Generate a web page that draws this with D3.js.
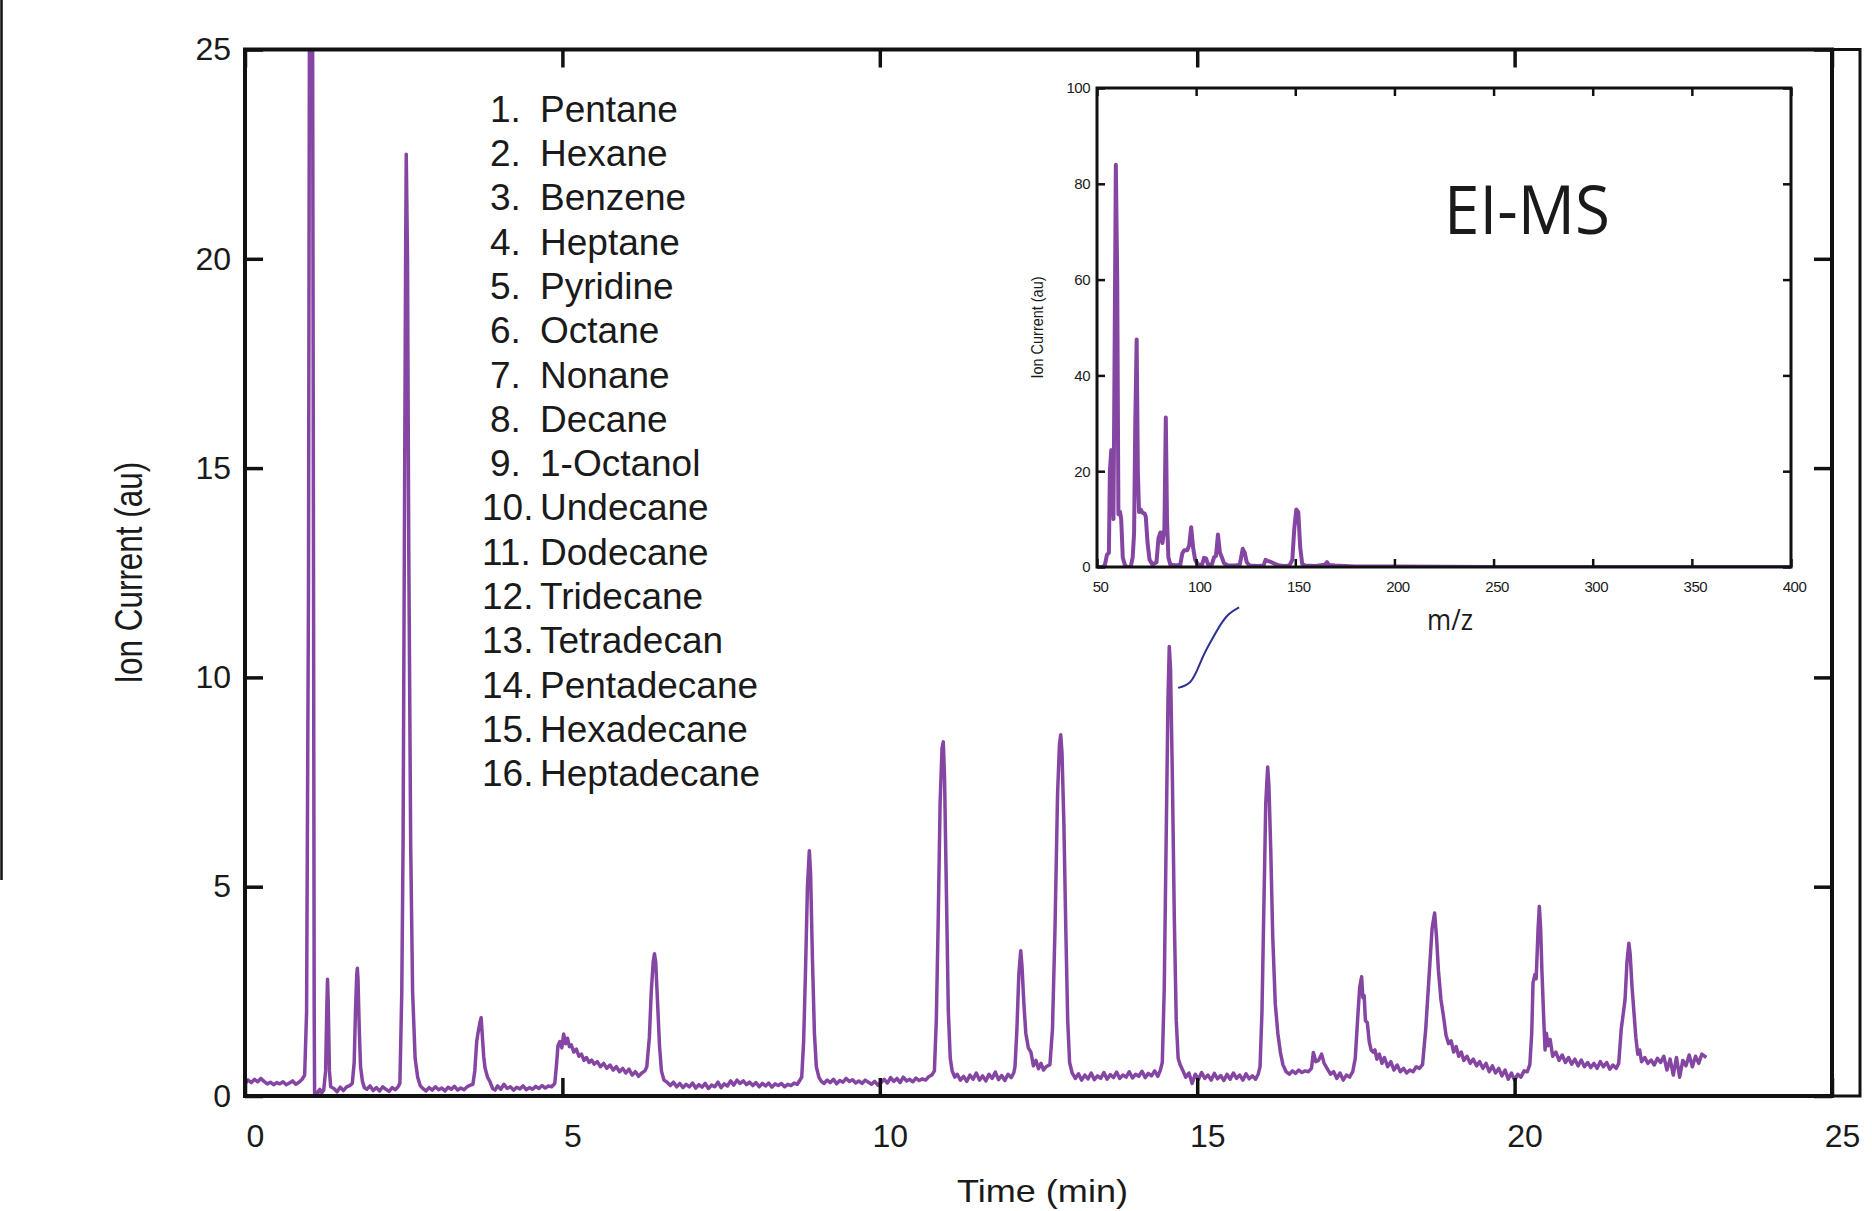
<!DOCTYPE html>
<html lang="en">
<head>
<meta charset="UTF-8">
<title>GC-MS chromatogram</title>
<script src="https://d3js.org/d3.v7.min.js"></script>
<style>
    body { margin: 0; background: #fff; }
    svg { display: block; font-family: "Liberation Sans", Arial, sans-serif; fill: #1a1a1a; }
    .trace { fill: none; stroke: #8446a2; stroke-width: 3.5; stroke-linejoin: round; }
    .frame { fill: none; stroke: #111; }
    .axis path { display: none; }
    .axis line { stroke: #111; }
    .axis text { fill: #1a1a1a; }
</style>
</head>
<body>
<div id="chart"></div>
<script>
// peak list shown in the legend
var compounds = ["Pentane", "Hexane", "Benzene", "Heptane", "Pyridine", "Octane", "Nonane", "Decane",
    "1-Octanol", "Undecane", "Dodecane", "Tridecane", "Tetradecan", "Pentadecane", "Hexadecane", "Heptadecane"];

var timeTicks = [0, 5, 10, 15, 20, 25];
var currentTicks = [0, 5, 10, 15, 20, 25];
var mzTicks = [50, 100, 150, 200, 250, 300, 350, 400];
var relTicks = [0, 20, 40, 60, 80, 100];

// total ion current, [time (min), ion current (au)]
var chromatogram = [
    [0.00, 0.30], [0.05, 0.38], [0.10, 0.32], [0.15, 0.40], [0.20, 0.34], [0.25, 0.42], [0.30, 0.35],
    [0.35, 0.29], [0.40, 0.33], [0.45, 0.27], [0.50, 0.32], [0.55, 0.29], [0.60, 0.34], [0.65, 0.27],
    [0.70, 0.31], [0.75, 0.36], [0.80, 0.28], [0.85, 0.33], [0.90, 0.40], [0.94, 0.50],
    [0.97, 2.0], [1.00, 12.0], [1.02, 30.0], [1.06, 30.0], [1.08, 12.0], [1.09, 2.0], [1.10, -1.0],
    [1.12, -1.5], [1.13, -0.4], [1.15, 0.10], [1.18, 0.16], [1.21, 0.08], [1.24, 0.14],
    [1.27, 0.6], [1.29, 2.2], [1.30, 2.79], [1.31, 2.3], [1.33, 0.6], [1.35, 0.22],
    [1.40, 0.18], [1.45, 0.10], [1.50, 0.21], [1.55, 0.13], [1.60, 0.22], [1.65, 0.25],
    [1.69, 0.30], [1.72, 0.8], [1.74, 2.0], [1.76, 2.9], [1.77, 3.05], [1.78, 2.8], [1.80, 1.6],
    [1.82, 0.7], [1.85, 0.35], [1.88, 0.20],
    [1.92, 0.16], [1.97, 0.24], [2.02, 0.13], [2.07, 0.20], [2.12, 0.12], [2.17, 0.22], [2.22, 0.16],
    [2.27, 0.11], [2.32, 0.20], [2.37, 0.15], [2.41, 0.22],
    [2.44, 0.30], [2.47, 2.5], [2.49, 6.0], [2.51, 13.0], [2.53, 20.0], [2.54, 22.5], [2.56, 20.0],
    [2.58, 13.0], [2.61, 6.0], [2.64, 2.5], [2.68, 0.9], [2.72, 0.45], [2.76, 0.25],
    [2.80, 0.18], [2.85, 0.12], [2.90, 0.20], [2.95, 0.14], [3.00, 0.22], [3.05, 0.15], [3.10, 0.19],
    [3.15, 0.12], [3.20, 0.21], [3.25, 0.16], [3.30, 0.23], [3.35, 0.14], [3.40, 0.19], [3.45, 0.15],
    [3.50, 0.22], [3.55, 0.26],
    [3.59, 0.28], [3.62, 0.6], [3.65, 1.3], [3.67, 1.5], [3.70, 1.75], [3.72, 1.87], [3.74, 1.4],
    [3.76, 0.95], [3.78, 0.68], [3.82, 0.45], [3.86, 0.34], [3.90, 0.18], [3.94, 0.14],
    [3.98, 0.24], [4.03, 0.16], [4.08, 0.28], [4.13, 0.18], [4.18, 0.22], [4.23, 0.14], [4.28, 0.21],
    [4.33, 0.17], [4.38, 0.24], [4.43, 0.15], [4.48, 0.20], [4.53, 0.16], [4.58, 0.23], [4.63, 0.18],
    [4.68, 0.25], [4.73, 0.19], [4.78, 0.24], [4.83, 0.22], [4.88, 0.30],
    [4.91, 0.8], [4.93, 1.2], [4.96, 1.3], [4.99, 1.15], [5.02, 1.48], [5.05, 1.25], [5.08, 1.38],
    [5.11, 1.18], [5.14, 1.22], [5.18, 1.05], [5.22, 1.12], [5.26, 0.95], [5.30, 1.00], [5.34, 0.85],
    [5.38, 0.92], [5.42, 0.80], [5.46, 0.86], [5.50, 0.76], [5.55, 0.82], [5.60, 0.70], [5.65, 0.78],
    [5.70, 0.66], [5.75, 0.74], [5.80, 0.62], [5.85, 0.70], [5.90, 0.58], [5.95, 0.66], [6.00, 0.55],
    [6.05, 0.64], [6.10, 0.50], [6.15, 0.58], [6.20, 0.47], [6.25, 0.55], [6.30, 0.60],
    [6.33, 0.7], [6.37, 1.4], [6.40, 2.5], [6.43, 3.2], [6.45, 3.40], [6.47, 3.2], [6.50, 2.2],
    [6.53, 1.2], [6.56, 0.6], [6.60, 0.38], [6.64, 0.34],
    [6.70, 0.25], [6.75, 0.33], [6.80, 0.22], [6.85, 0.30], [6.90, 0.20], [6.95, 0.28], [7.00, 0.22],
    [7.05, 0.31], [7.10, 0.19], [7.15, 0.27], [7.20, 0.21], [7.25, 0.30], [7.30, 0.18], [7.35, 0.26],
    [7.40, 0.22], [7.45, 0.33], [7.50, 0.20], [7.55, 0.29], [7.60, 0.24], [7.65, 0.36], [7.70, 0.26],
    [7.75, 0.38], [7.80, 0.30], [7.85, 0.36], [7.90, 0.27], [7.95, 0.33], [8.00, 0.25], [8.05, 0.32],
    [8.10, 0.22], [8.15, 0.30], [8.20, 0.24], [8.25, 0.31], [8.30, 0.21], [8.35, 0.29], [8.40, 0.25],
    [8.45, 0.30], [8.50, 0.22], [8.55, 0.28], [8.60, 0.25], [8.65, 0.31], [8.70, 0.28], [8.75, 0.40],
    [8.77, 0.45], [8.80, 1.3], [8.83, 3.0], [8.86, 5.0], [8.89, 5.86], [8.91, 5.3], [8.94, 3.2],
    [8.97, 1.5], [9.00, 0.7], [9.04, 0.45], [9.08, 0.35],
    [9.12, 0.30], [9.17, 0.38], [9.22, 0.32], [9.27, 0.40], [9.32, 0.29], [9.37, 0.37], [9.42, 0.33],
    [9.47, 0.42], [9.52, 0.35], [9.57, 0.39], [9.62, 0.31], [9.67, 0.36], [9.72, 0.30], [9.77, 0.38],
    [9.82, 0.33], [9.87, 0.28], [9.92, 0.35], [9.97, 0.26], [10.02, 0.32], [10.07, 0.40], [10.12, 0.31],
    [10.17, 0.44], [10.22, 0.35], [10.27, 0.42], [10.32, 0.32], [10.37, 0.45], [10.42, 0.36], [10.47, 0.40],
    [10.52, 0.34], [10.57, 0.43], [10.62, 0.37], [10.67, 0.41], [10.72, 0.38], [10.77, 0.46], [10.82, 0.50],
    [10.86, 0.6], [10.89, 1.8], [10.92, 4.2], [10.95, 7.0], [10.98, 8.3], [11.00, 8.46], [11.02, 7.6],
    [11.05, 4.8], [11.08, 2.0], [11.11, 0.9], [11.14, 0.6], [11.18, 0.45],
    [11.22, 0.52], [11.27, 0.38], [11.32, 0.47], [11.37, 0.35], [11.42, 0.50], [11.47, 0.40], [11.52, 0.55],
    [11.57, 0.38], [11.62, 0.48], [11.67, 0.36], [11.72, 0.52], [11.77, 0.42], [11.82, 0.57], [11.87, 0.39],
    [11.92, 0.49], [11.97, 0.37], [12.02, 0.52], [12.07, 0.44], [12.11, 0.55],
    [12.13, 0.7], [12.16, 1.6], [12.19, 2.9], [12.22, 3.47], [12.24, 3.1], [12.27, 2.2], [12.30, 1.5],
    [12.34, 1.15], [12.38, 1.05], [12.42, 0.72], [12.46, 0.85], [12.50, 0.65], [12.54, 0.78], [12.58, 0.62],
    [12.62, 0.70],
    [12.68, 0.75], [12.72, 1.6], [12.76, 4.0], [12.80, 7.2], [12.83, 8.4], [12.85, 8.63], [12.87, 8.2],
    [12.90, 6.5], [12.93, 4.0], [12.96, 1.8], [12.99, 0.8], [13.03, 0.55],
    [13.08, 0.42], [13.13, 0.53], [13.18, 0.38], [13.23, 0.50], [13.28, 0.41], [13.33, 0.55], [13.38, 0.39],
    [13.43, 0.48], [13.48, 0.42], [13.53, 0.56], [13.58, 0.40], [13.63, 0.51], [13.68, 0.44], [13.73, 0.57],
    [13.78, 0.42], [13.83, 0.50], [13.88, 0.45], [13.93, 0.58], [13.98, 0.43], [14.03, 0.52], [14.08, 0.47],
    [14.13, 0.59], [14.18, 0.44], [14.23, 0.54], [14.28, 0.48], [14.33, 0.60], [14.38, 0.47], [14.42, 0.62],
    [14.45, 0.8], [14.48, 2.5], [14.51, 6.0], [14.54, 9.5], [14.56, 10.74], [14.58, 10.2], [14.61, 7.5],
    [14.64, 4.2], [14.67, 1.8], [14.70, 0.9], [14.73, 0.75],
    [14.77, 0.62], [14.82, 0.45], [14.87, 0.55], [14.92, 0.30], [14.97, 0.52], [15.02, 0.40], [15.07, 0.56],
    [15.12, 0.42], [15.17, 0.50], [15.22, 0.38], [15.27, 0.54], [15.32, 0.41], [15.37, 0.49], [15.42, 0.37],
    [15.47, 0.52], [15.52, 0.40], [15.57, 0.55], [15.62, 0.42], [15.67, 0.50], [15.72, 0.38], [15.77, 0.53],
    [15.82, 0.41], [15.87, 0.48], [15.92, 0.40], [15.96, 0.52],
    [15.99, 0.7], [16.02, 2.0], [16.05, 4.5], [16.08, 7.0], [16.11, 7.86], [16.13, 7.4], [16.16, 5.8],
    [16.19, 3.8], [16.23, 2.2], [16.27, 1.5], [16.31, 1.05], [16.35, 0.75], [16.40, 0.58],
    [16.45, 0.52], [16.50, 0.60], [16.55, 0.54], [16.60, 0.62], [16.65, 0.56], [16.70, 0.60], [16.75, 0.58],
    [16.80, 0.66], [16.83, 1.04], [16.87, 0.82], [16.91, 0.85], [16.96, 1.00], [17.00, 0.78], [17.05, 0.65],
    [17.10, 0.52], [17.15, 0.58], [17.20, 0.42], [17.25, 0.55], [17.30, 0.38], [17.35, 0.50], [17.40, 0.45],
    [17.45, 0.58],
    [17.49, 0.9], [17.53, 1.9], [17.56, 2.6], [17.59, 2.85], [17.61, 2.35], [17.63, 2.4], [17.65, 1.8],
    [17.68, 1.75], [17.71, 1.3], [17.74, 1.1], [17.77, 1.05], [17.80, 1.10], [17.83, 0.88], [17.87, 1.00],
    [17.91, 0.78], [17.95, 0.92], [18.00, 0.70], [18.05, 0.82], [18.10, 0.62], [18.15, 0.74], [18.20, 0.58],
    [18.25, 0.66], [18.30, 0.55], [18.35, 0.62], [18.40, 0.58], [18.45, 0.70], [18.50, 0.66],
    [18.55, 0.75], [18.60, 1.6], [18.65, 2.8], [18.70, 4.0], [18.74, 4.37], [18.77, 3.8], [18.80, 3.0],
    [18.84, 2.3], [18.88, 1.9], [18.92, 1.45], [18.96, 1.25], [19.00, 1.32], [19.04, 1.05], [19.08, 1.18],
    [19.12, 0.95], [19.16, 1.05], [19.20, 0.85], [19.25, 0.95], [19.30, 0.78], [19.35, 0.88], [19.40, 0.72],
    [19.45, 0.82], [19.50, 0.66], [19.55, 0.78], [19.60, 0.58], [19.65, 0.72], [19.70, 0.55], [19.75, 0.66],
    [19.80, 0.48], [19.85, 0.62], [19.90, 0.40], [19.95, 0.55], [20.00, 0.38], [20.05, 0.52], [20.10, 0.45],
    [20.15, 0.60], [20.20, 0.58],
    [20.24, 0.75], [20.27, 1.5], [20.29, 2.7], [20.32, 2.9], [20.34, 2.8], [20.37, 4.0], [20.39, 4.53],
    [20.41, 4.0], [20.43, 3.0], [20.46, 1.8], [20.48, 1.1], [20.50, 1.5], [20.53, 1.2], [20.56, 1.35],
    [20.60, 0.95], [20.65, 1.05], [20.70, 0.85], [20.75, 0.98], [20.80, 0.80], [20.85, 0.92], [20.90, 0.76],
    [20.95, 0.88], [21.00, 0.72], [21.05, 0.86], [21.10, 0.70], [21.15, 0.80], [21.20, 0.68], [21.25, 0.78],
    [21.30, 0.66], [21.35, 0.82], [21.40, 0.70], [21.45, 0.80], [21.50, 0.64], [21.55, 0.74], [21.60, 0.66],
    [21.64, 0.78], [21.68, 1.6], [21.71, 1.95], [21.74, 2.3], [21.77, 3.2], [21.80, 3.65], [21.82, 3.4],
    [21.85, 2.6], [21.88, 2.0], [21.91, 1.4], [21.94, 1.0], [21.97, 1.1], [22.00, 0.82], [22.05, 0.92],
    [22.10, 0.78], [22.15, 0.86], [22.20, 0.74], [22.25, 0.90], [22.30, 0.80], [22.35, 0.95], [22.40, 0.62],
    [22.45, 0.88], [22.50, 0.50], [22.55, 0.92], [22.60, 0.45], [22.65, 0.85], [22.70, 0.72], [22.75, 0.98],
    [22.80, 0.70], [22.85, 0.95], [22.90, 0.78], [22.95, 1.00], [23.02, 0.92]
];

// EI mass spectrum of the 14.6 min peak, [m/z, relative ion current]
var spectrum = [
    [50, 0], [53, 0], [54, 0.5], [55, 2.5], [56, 3], [56.5, 20], [57.2, 24.4], [57.8, 22], [58.3, 10],
    [58.8, 40], [59.5, 84], [60.2, 60], [60.8, 11], [61.6, 11.5], [62.2, 10], [63, 2], [64, 0.5],
    [65, 0], [67, 0], [68, 2], [68.7, 7], [69.3, 30], [70, 47.5], [70.6, 20], [71.2, 11.5], [72, 12],
    [73, 11.3], [74, 11.2], [74.6, 10.5], [75.5, 5], [76.5, 1.5], [78, 0.5], [80, 1], [81, 6], [82, 7.2],
    [83, 5], [84, 8], [84.7, 31.2], [85.3, 10], [86, 2], [87, 0.5], [90, 0.3], [92, 0.5], [93, 2.8],
    [94, 3.5], [95.5, 3.5], [96.5, 4.5], [97.5, 8.3], [98.5, 4], [99.5, 1.5], [101, 0.4], [103, 0.5],
    [104, 1.9], [105, 1.8], [106, 0.5], [108, 0.6], [109, 2], [110, 2.3], [111, 6.8], [112, 3], [113, 2],
    [114, 0.8], [116, 0.3], [120, 0.3], [122, 0.5], [123.5, 3.8], [124.5, 3], [125.5, 1], [127, 0.3],
    [131, 0.2], [134, 0.3], [135, 1.5], [136, 1.3], [138, 1.0], [140, 0.6], [142, 0.3], [145, 0.2],
    [147, 0.3], [148.5, 1.5], [149.5, 8], [150.5, 12], [151.5, 11.5], [152.5, 4], [153.5, 0.6], [155, 0.3],
    [160, 0.2], [165, 0.5], [166, 1], [167, 0.4], [170, 0.3], [180, 0.1], [200, 0.1], [250, 0], [400, 0]
];

// call-out from the tetradecane peak to the inset, in chromatogram units
var connector = [[14.70, 9.75], [14.89, 9.89], [15.14, 10.65], [15.46, 11.45], [15.66, 11.67]];

var W = 1872, H = 1211;
var svg = d3.select("#chart").append("svg")
    .attr("width", W)
    .attr("height", H);

// ---- main chromatogram ----
var x = d3.scaleLinear().domain([0, 25]).range([245, 1832]);
var y = d3.scaleLinear().domain([0, 25]).range([1096, 49.5]);

svg.append("clipPath").attr("id", "plotClip")
    .append("rect")
    .attr("x", x(0)).attr("y", y(25))
    .attr("width", x(25) - x(0)).attr("height", y(0) - y(25));

var traceLine = d3.line()
    .x(function (d) { return x(d[0]); })
    .y(function (d) { return y(d[1]); });

svg.append("path")
    .attr("class", "trace")
    .attr("clip-path", "url(#plotClip)")
    .attr("d", traceLine(chromatogram));

// stray border line at the left edge of the scan
svg.append("line")
    .attr("x1", 1.5).attr("x2", 1.5).attr("y1", 0).attr("y2", 880)
    .attr("stroke", "#111").attr("stroke-width", 2.5);

// axes, ticks pointing inward
var bottomAxis = svg.append("g").attr("class", "axis")
    .attr("transform", "translate(0," + y(0) + ")")
    .call(d3.axisBottom(x).tickValues(timeTicks).tickSize(-18).tickPadding(28));
bottomAxis.selectAll("line").attr("stroke-width", 3.5);
bottomAxis.selectAll("text").attr("dx", 10).style("font-size", "32px");

var leftAxis = svg.append("g").attr("class", "axis")
    .attr("transform", "translate(" + x(0) + ",0)")
    .call(d3.axisLeft(y).tickValues(currentTicks).tickSize(-18).tickPadding(14));
leftAxis.selectAll("line").attr("stroke-width", 3.5);
leftAxis.selectAll("text").style("font-size", "32px");

var topAxis = svg.append("g").attr("class", "axis")
    .attr("transform", "translate(0," + y(25) + ")")
    .call(d3.axisTop(x).tickValues(timeTicks).tickSize(-18).tickFormat(""));
topAxis.selectAll("line").attr("stroke-width", 3.5);

var rightAxis = svg.append("g").attr("class", "axis")
    .attr("transform", "translate(" + x(25) + ",0)")
    .call(d3.axisRight(y).tickValues(currentTicks).tickSize(-18).tickFormat(""));
rightAxis.selectAll("line").attr("stroke-width", 3.5);

svg.append("rect").attr("class", "frame")
    .attr("x", x(0)).attr("y", y(25))
    .attr("width", x(25) - x(0)).attr("height", y(0) - y(25))
    .attr("stroke-width", 4);

// second border on the right
svg.append("path").attr("class", "frame")
    .attr("d", "M" + x(25) + "," + y(25) + "H1860V" + y(0) + "H" + x(25))
    .attr("stroke-width", 3);

svg.append("text")
    .attr("transform", "translate(" + 142 + "," + (y(0) + y(25)) / 2 + ") rotate(-90)")
    .attr("text-anchor", "middle")
    .attr("textLength", 222).attr("lengthAdjust", "spacingAndGlyphs")
    .style("font-size", "38px")
    .text("Ion Current (au)");

svg.append("text")
    .attr("x", (x(0) + x(25)) / 2 + 4).attr("y", 1202)
    .attr("text-anchor", "middle")
    .attr("textLength", 171).attr("lengthAdjust", "spacingAndGlyphs")
    .style("font-size", "32px")
    .text("Time (min)");

// legend
var legend = svg.append("g");
compounds.forEach(function (name, i) {
    var by = 121.7 + i * 44.3;
    legend.append("text")
        .attr("x", i < 9 ? 490 : 482).attr("y", by)
        .style("font-size", "37px")
        .text((i + 1) + ".");
    legend.append("text")
        .attr("x", 540).attr("y", by)
        .style("font-size", "37px")
        .text(name);
});

// call-out line
svg.append("path")
    .attr("d", d3.line()
        .x(function (d) { return x(d[0]); })
        .y(function (d) { return y(d[1]); })
        .curve(d3.curveCatmullRom)(connector))
    .attr("fill", "none")
    .attr("stroke", "#2e3192")
    .attr("stroke-width", 2);

// ---- inset mass spectrum ----
var mx = d3.scaleLinear().domain([50, 400]).range([1097, 1791]);
var my = d3.scaleLinear().domain([0, 100]).range([567, 88]);

svg.append("clipPath").attr("id", "insetClip")
    .append("rect")
    .attr("x", mx(50)).attr("y", my(100))
    .attr("width", mx(400) - mx(50)).attr("height", my(0) - my(100));

svg.append("path")
    .attr("class", "trace")
    .attr("clip-path", "url(#insetClip)")
    .style("stroke-width", 4)
    .attr("d", d3.line()
        .x(function (d) { return mx(d[0]); })
        .y(function (d) { return my(d[1]); })(spectrum));

var inBottom = svg.append("g").attr("class", "axis")
    .attr("transform", "translate(0," + my(0) + ")")
    .call(d3.axisBottom(mx).tickValues(mzTicks).tickSize(-8).tickPadding(14));
inBottom.selectAll("line").attr("stroke-width", 2.5);
inBottom.selectAll("text").attr("dx", 3).style("font-size", "15px").style("letter-spacing", "-0.5px");

var inLeft = svg.append("g").attr("class", "axis")
    .attr("transform", "translate(" + mx(50) + ",0)")
    .call(d3.axisLeft(my).tickValues(relTicks).tickSize(-8).tickPadding(7));
inLeft.selectAll("line").attr("stroke-width", 2.5);
inLeft.selectAll("text").style("font-size", "15px").style("letter-spacing", "-0.5px");

var inTop = svg.append("g").attr("class", "axis")
    .attr("transform", "translate(0," + my(100) + ")")
    .call(d3.axisTop(mx).tickValues(mzTicks).tickSize(-8).tickFormat(""));
inTop.selectAll("line").attr("stroke-width", 2.5);

var inRight = svg.append("g").attr("class", "axis")
    .attr("transform", "translate(" + mx(400) + ",0)")
    .call(d3.axisRight(my).tickValues(relTicks).tickSize(-8).tickFormat(""));
inRight.selectAll("line").attr("stroke-width", 2.5);

svg.append("rect").attr("class", "frame")
    .attr("x", mx(50)).attr("y", my(100))
    .attr("width", mx(400) - mx(50)).attr("height", my(0) - my(100))
    .attr("stroke-width", 3);

svg.append("text")
    .attr("transform", "translate(" + 1043 + "," + (my(0) + my(100)) / 2 + ") rotate(-90)")
    .attr("text-anchor", "middle")
    .attr("textLength", 102).attr("lengthAdjust", "spacingAndGlyphs")
    .style("font-size", "17px")
    .text("Ion Current (au)");

svg.append("text")
    .attr("x", 1450).attr("y", 630)
    .attr("text-anchor", "middle")
    .attr("textLength", 46).attr("lengthAdjust", "spacingAndGlyphs")
    .style("font-family", "'Open Sans', sans-serif")
    .style("font-size", "30px")
    .text("m/z");

svg.append("text")
    .attr("x", 1444).attr("y", 234)
    .attr("textLength", 166).attr("lengthAdjust", "spacingAndGlyphs")
    .style("font-family", "'Open Sans', sans-serif")
    .style("font-size", "68px")
    .text("EI-MS");
</script>
</body>
</html>
